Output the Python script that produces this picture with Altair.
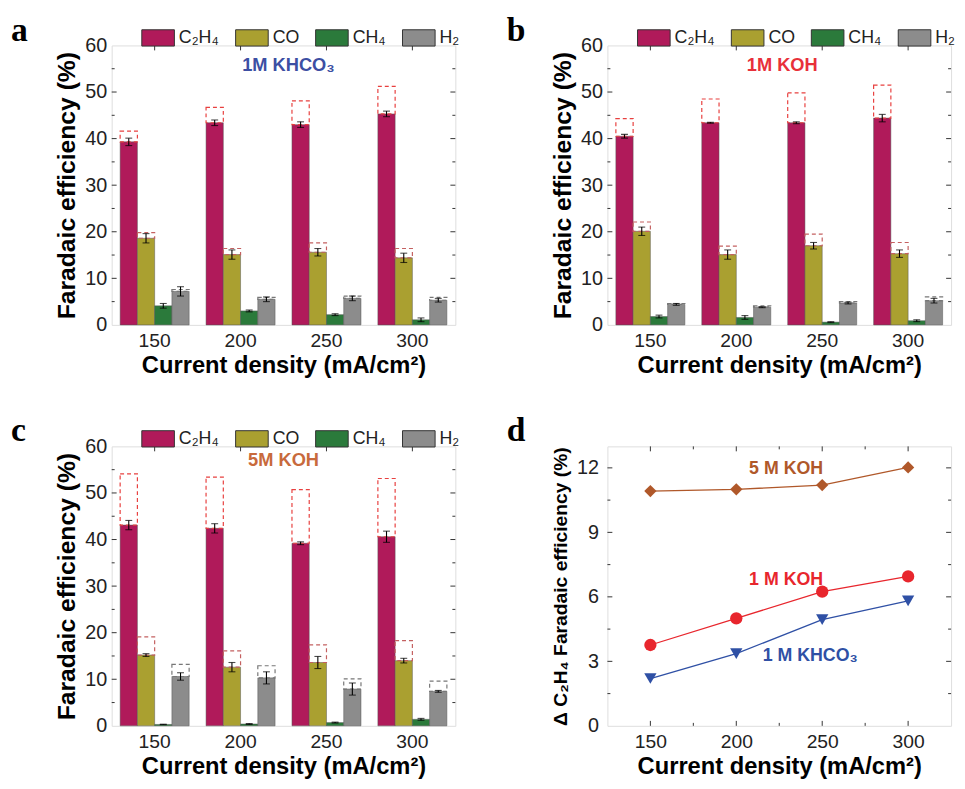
import altair as alt
import pandas as pd

# ---------------- data ----------------
DENSITY = [150, 200, 250, 300]
SPECIES = ["C₂H₄", "CO", "CH₄", "H₂"]
SPECIES_COLORS = ["#b01a5a", "#aaa030", "#2b7a3b", "#8c8c8c"]
BOX_COLORS = ["#e8403f", "#c46060", "#c46060", "#777777"]

# panel a : 1M KHCO3
A_C2H4 = [39.3, 43.4, 43.0, 45.3]
A_C2H4_ERR = [0.8, 0.6, 0.6, 0.6]
A_C2H4_UP = [41.6, 46.7, 48.1, 51.2]
A_CO = [18.6, 15.1, 15.6, 14.4]
A_CO_ERR = [1.0, 1.0, 0.8, 1.0]
A_CO_UP = [19.8, 16.4, 17.6, 16.4]
A_CH4 = [4.1, 3.0, 2.2, 1.1]
A_CH4_ERR = [0.5, 0.2, 0.2, 0.4]
A_H2 = [7.2, 5.5, 5.7, 5.3]
A_H2_ERR = [1.0, 0.5, 0.5, 0.4]
A_H2_UP = [7.6, 5.9, 6.2, 5.9]

# panel b : 1M KOH
B_C2H4 = [40.5, 43.4, 43.4, 44.4]
B_C2H4_ERR = [0.4, 0.1, 0.2, 0.8]
B_C2H4_UP = [44.3, 48.5, 49.8, 51.5]
B_CO = [20.1, 15.1, 17.0, 15.3]
B_CO_ERR = [0.9, 1.0, 0.7, 0.8]
B_CO_UP = [22.1, 16.9, 19.5, 17.7]
B_CH4 = [1.8, 1.6, 0.6, 0.9]
B_CH4_ERR = [0.3, 0.4, 0.1, 0.2]
B_H2 = [4.4, 3.8, 4.7, 5.2]
B_H2_ERR = [0.2, 0.1, 0.2, 0.5]
B_H2_UP = [4.6, 4.1, 5.0, 6.0]

# panel c : 5M KOH
C_C2H4 = [43.1, 42.4, 39.2, 40.6]
C_C2H4_ERR = [1.0, 1.0, 0.3, 1.2]
C_C2H4_UP = [54.1, 53.4, 50.7, 53.1]
C_CO = [15.2, 12.6, 13.6, 14.0]
C_CO_ERR = [0.3, 1.0, 1.3, 0.5]
C_CO_UP = [19.1, 16.1, 17.4, 18.3]
C_CH4 = [0.3, 0.4, 0.7, 1.4]
C_CH4_ERR = [0.05, 0.1, 0.1, 0.2]
C_H2 = [10.6, 10.3, 7.9, 7.4]
C_H2_ERR = [0.8, 1.3, 1.3, 0.2]
C_H2_UP = [13.2, 12.9, 10.1, 9.6]

# panel d : delta C2H4 FE
SERIES = ["5 M KOH", "1 M KOH", "1 M KHCO₃"]
SERIES_COLORS = ["#b0582a", "#e8262d", "#2f50a5"]
SERIES_SHAPES = ["diamond", "circle", "triangle-down"]
D_5M_KOH = [10.92, 11.0, 11.2, 12.02]
D_1M_KOH = [3.76, 5.0, 6.24, 6.95]
D_1M_KHCO3 = [2.2, 3.36, 4.94, 5.81]
D_NOTE_X = [229, 229, 243]
D_NOTE_Y = [11.94, 6.78, 3.23]

W, H = 348, 283
FONT = "Liberation Sans"
XTITLE = "Current density (mA/cm²)"


def bar_frame(panel):
    vals, errs, ups = panel
    rows = []
    for si, sp in enumerate(SPECIES):
        for di, d in enumerate(DENSITY):
            v = vals[si][di]
            e = errs[si][di]
            u = ups[si][di] if ups[si] is not None else None
            rows.append({"density": d, "species": sp, "value": v,
                         "lo": v - e, "hi": v + e, "upper": u,
                         "boxc": BOX_COLORS[si]})
    return pd.DataFrame(rows)


def label_layer(letter):
    return alt.Chart(pd.DataFrame({"t": [letter]})).mark_text(
        font="Liberation Serif", fontSize=34, fontWeight="bold",
        align="left", baseline="alphabetic", color="black"
    ).encode(x=alt.value(-102), y=alt.value(-5), text="t:N")


def x_axis():
    return alt.Axis(title=XTITLE, labelAngle=0, ticks=False, domain=False, grid=False,
                    labelFont=FONT, titleFont=FONT,
                    labelFontSize=19.5, labelColor="#222", labelPadding=7,
                    titleFontSize=24, titleFontWeight="bold", titlePadding=4,
                    titleColor="black")


def bar_panel(letter, panel, note, note_color, note_x, note_y):
    df = bar_frame(panel)
    base = alt.Chart(df)
    xoff = alt.XOffset("species:N", sort=SPECIES,
                       scale=alt.Scale(domain=SPECIES, paddingOuter=0.49, paddingInner=0))
    xplain = alt.X("density:O", sort=DENSITY)

    bars = base.mark_bar(stroke="#555555", strokeWidth=0.5).encode(
        x=alt.X("density:O", sort=DENSITY,
                scale=alt.Scale(paddingInner=0, paddingOuter=0), axis=x_axis()),
        xOffset=xoff,
        y=alt.Y("value:Q", scale=alt.Scale(domain=[0, 60], nice=False),
                axis=alt.Axis(title="Faradaic efficiency (%)", values=[0, 10, 20, 30, 40, 50, 60],
                              ticks=False, domain=False, grid=False,
                              labelFont=FONT, titleFont=FONT,
                              labelFontSize=20, labelColor="#222", labelPadding=5,
                              titleFontSize=25, titleFontWeight="bold", titlePadding=5,
                              titleColor="black")),
        color=alt.Color("species:N", sort=SPECIES,
                        scale=alt.Scale(domain=SPECIES, range=SPECIES_COLORS),
                        legend=alt.Legend(orient="none", legendX=30, legendY=-25,
                                          direction="horizontal", columns=4, title=None,
                                          symbolType="M-1,-0.5H1V0.5H-1Z", symbolSize=1089,
                                          symbolStrokeColor="#333", symbolStrokeWidth=1,
                                          labelFont=FONT, labelFontSize=18, labelColor="#222",
                                          labelOffset=4, columnPadding=14)),
    )
    boxes = base.transform_filter("datum.upper != null").mark_bar(
        fillOpacity=0, strokeDash=[4, 3], strokeWidth=1.2
    ).encode(x=xplain, xOffset=xoff, y="value:Q", y2="upper:Q",
             stroke=alt.Stroke("boxc:N", scale=None))
    err = base.mark_rule(color="black", strokeWidth=1.1).encode(
        x=xplain, xOffset=xoff, y="lo:Q", y2="hi:Q")
    cap_lo = base.mark_tick(color="black", thickness=1.1, size=7, orient="horizontal").encode(
        x=xplain, xOffset=xoff, y="lo:Q")
    cap_hi = base.mark_tick(color="black", thickness=1.1, size=7, orient="horizontal").encode(
        x=xplain, xOffset=xoff, y="hi:Q")

    major = pd.DataFrame({"v": [10, 20, 30, 40, 50]})
    minor = pd.DataFrame({"v": [5, 15, 25, 35, 45, 55]})
    tk = []
    for dfv, ln in ((major, 5), (minor, 3)):
        tk.append(alt.Chart(dfv).mark_rule(color="#333", strokeWidth=1).encode(
            y="v:Q", x=alt.value(0), x2=alt.value(ln)))
        tk.append(alt.Chart(dfv).mark_rule(color="#333", strokeWidth=1).encode(
            y="v:Q", x=alt.value(W), x2=alt.value(W - ln)))
    top = alt.Chart(pd.DataFrame({"density": DENSITY})).mark_rule(color="#333", strokeWidth=1).encode(
        x=xplain, y=alt.value(0), y2=alt.value(5))

    note_l = alt.Chart(pd.DataFrame({"t": [note]})).mark_text(
        font=FONT, fontSize=18.5, fontWeight="bold", color=note_color, align="center", baseline="middle"
    ).encode(x=alt.value(note_x), y=alt.value(note_y), text="t:N")

    return alt.layer(bars, boxes, err, cap_lo, cap_hi, *tk, top, note_l,
                     label_layer(letter)).properties(width=W, height=H)


def line_panel():
    rows = []
    for s, vals in zip(SERIES, [D_5M_KOH, D_1M_KOH, D_1M_KHCO3]):
        for d, v in zip(DENSITY, vals):
            rows.append({"density": d, "delta": v, "series": s})
    df = pd.DataFrame(rows)
    cs = alt.Scale(domain=SERIES, range=SERIES_COLORS)
    base = alt.Chart(df)
    xa = x_axis()
    xa.values = DENSITY
    lines = base.mark_line(strokeWidth=1.3).encode(
        x=alt.X("density:Q", scale=alt.Scale(domain=[125, 325], nice=False), axis=xa),
        y=alt.Y("delta:Q", scale=alt.Scale(domain=[0, 13], nice=False),
                axis=alt.Axis(title="Δ C₂H₄ Faradaic efficiency (%)", values=[0, 3, 6, 9, 12],
                              ticks=False, domain=False, grid=False,
                              labelFont=FONT, titleFont=FONT,
                              labelFontSize=20, labelColor="#222", labelPadding=9,
                              titleFontSize=19.5, titleFontWeight="bold", titlePadding=6,
                              titleColor="black")),
        color=alt.Color("series:N", scale=cs, legend=None),
        detail="series:N",
    )
    pts = base.mark_point(filled=True, size=155, opacity=1).encode(
        x="density:Q", y="delta:Q",
        color=alt.Color("series:N", scale=cs, legend=None),
        shape=alt.Shape("series:N", scale=alt.Scale(domain=SERIES, range=SERIES_SHAPES), legend=None),
    )
    notes = alt.Chart(pd.DataFrame({"t": SERIES, "x": D_NOTE_X, "y": D_NOTE_Y})).mark_text(
        font=FONT, fontSize=18, fontWeight="bold", align="center", baseline="middle"
    ).encode(x="x:Q", y="y:Q", text="t:N",
             color=alt.Color("t:N", scale=cs, legend=None))

    ymaj = pd.DataFrame({"v": [3, 6, 9, 12]})
    ymin = pd.DataFrame({"v": [1.5, 4.5, 7.5, 10.5]})
    xmaj = pd.DataFrame({"u": DENSITY})
    xmin = pd.DataFrame({"u": [175, 225, 275]})
    tk = []
    for dfv, ln in ((ymaj, 5), (ymin, 3)):
        tk.append(alt.Chart(dfv).mark_rule(color="#333", strokeWidth=1).encode(
            y="v:Q", x=alt.value(0), x2=alt.value(ln)))
        tk.append(alt.Chart(dfv).mark_rule(color="#333", strokeWidth=1).encode(
            y="v:Q", x=alt.value(W), x2=alt.value(W - ln)))
    for dfv, ln in ((xmaj, 5), (xmin, 3)):
        tk.append(alt.Chart(dfv).mark_rule(color="#333", strokeWidth=1).encode(
            x="u:Q", y=alt.value(0), y2=alt.value(ln)))
        tk.append(alt.Chart(dfv).mark_rule(color="#333", strokeWidth=1).encode(
            x="u:Q", y=alt.value(H), y2=alt.value(H - ln)))
    return alt.layer(lines, pts, notes, *tk, label_layer("d")).properties(width=W, height=H)


pa = bar_panel("a", ([A_C2H4, A_CO, A_CH4, A_H2], [A_C2H4_ERR, A_CO_ERR, A_CH4_ERR, A_H2_ERR],
                     [A_C2H4_UP, A_CO_UP, None, A_H2_UP]), "1M KHCO₃", "#3c4fa3", 179, 20)
pb = bar_panel("b", ([B_C2H4, B_CO, B_CH4, B_H2], [B_C2H4_ERR, B_CO_ERR, B_CH4_ERR, B_H2_ERR],
                     [B_C2H4_UP, B_CO_UP, None, B_H2_UP]), "1M KOH", "#e8303a", 177, 20)
pc = bar_panel("c", ([C_C2H4, C_CO, C_CH4, C_H2], [C_C2H4_ERR, C_CO_ERR, C_CH4_ERR, C_H2_ERR],
                     [C_C2H4_UP, C_CO_UP, None, C_H2_UP]), "5M KOH", "#c86a3c", 174, 14)
pd_ = line_panel()

chart = alt.concat(pa, pb, pc, pd_, columns=2, spacing={"row": 123, "column": 154},
                   bounds="flush").resolve_scale(
    x="independent", y="independent", color="independent", shape="independent", stroke="independent"
).resolve_legend(color="independent").properties(
    padding={"left": 2, "top": 0, "right": 1, "bottom": 2}
).configure_view(stroke="#333", strokeWidth=1.3).configure(font=FONT)

chart.save("out.html", embed_options={"renderer": "svg", "actions": False})
